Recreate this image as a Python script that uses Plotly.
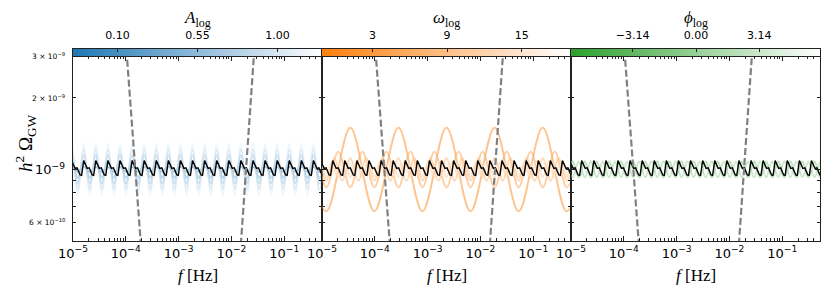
import math
import plotly.graph_objects as go

# ---------------- data ----------------
x_tick_vals = [1e-5, 1e-4, 1e-3, 1e-2, 1e-1]
x_tick_text = ["10<sup>−5</sup>", "10<sup>−4</sup>", "10<sup>−3</sup>", "10<sup>−2</sup>", "10<sup>−1</sup>"]
x_minor_vals = [m * d for d in x_tick_vals for m in range(2, 10)]
x_range_log = [-5.0, -0.284]

y_label_vals = [6e-10, 1e-9, 2e-9, 3e-9]
y_label_text = ["6 × 10<sup>−10</sup>", "10<sup>−9</sup>", "2 × 10<sup>−9</sup>", "3 × 10<sup>−9</sup>"]
y_minor_vals = [6e-10, 7e-10, 8e-10, 9e-10, 2e-9, 3e-9]
y_range = [5e-10, 3e-9]

# fiducial model (black): log10 f nodes, h^2 Omega in units of 1e-9
black_logf = [-5.026, -4.960, -4.922, -4.865, -4.837,
              -4.797, -4.731, -4.693, -4.636, -4.608,
              -4.568, -4.502, -4.464, -4.407, -4.379,
              -4.339, -4.273, -4.235, -4.178, -4.150,
              -4.110, -4.044, -4.006, -3.949, -3.921,
              -3.881, -3.815, -3.777, -3.720, -3.692,
              -3.652, -3.586, -3.548, -3.491, -3.463,
              -3.423, -3.357, -3.319, -3.262, -3.234,
              -3.194, -3.128, -3.090, -3.033, -3.005,
              -2.965, -2.899, -2.861, -2.804, -2.776,
              -2.736, -2.670, -2.632, -2.575, -2.547,
              -2.507, -2.441, -2.403, -2.346, -2.318,
              -2.278, -2.212, -2.174, -2.117, -2.089,
              -2.049, -1.983, -1.945, -1.888, -1.860,
              -1.820, -1.754, -1.716, -1.659, -1.631,
              -1.591, -1.525, -1.487, -1.430, -1.402,
              -1.362, -1.296, -1.258, -1.201, -1.173,
              -1.133, -1.067, -1.029, -0.972, -0.944,
              -0.904, -0.838, -0.800, -0.743, -0.715,
              -0.675, -0.609, -0.571, -0.514, -0.486,
              -0.446, -0.380, -0.342, -0.285, -0.257,
              -0.217]
black_period_levels = [1.090, 1.010, 1.015, 0.948, 0.944]
black_omega = black_period_levels * 21 + [1.090]

# panel 1: amplitude A_log (extrema of the wiggles)
A_values = [0.10, 0.325, 0.55, 0.775, 1.00]
A_peak = [1.026, 1.085, 1.148, 1.213, 1.285]
A_trough = [0.975, 0.921, 0.871, 0.825, 0.778]
A_extrema_logf = [-5.1405, -5.026, -4.9115, -4.797, -4.6825, -4.568, -4.4535, -4.339, -4.2245,
                  -4.110, -3.9955, -3.881, -3.7665, -3.652, -3.5375, -3.423, -3.3085,
                  -3.194, -3.0795, -2.965, -2.8505, -2.736, -2.6215, -2.507, -2.3925,
                  -2.278, -2.1635, -2.049, -1.9345, -1.820, -1.7055, -1.591, -1.4765,
                  -1.362, -1.2475, -1.133, -1.0185, -0.904, -0.7895, -0.675, -0.5605,
                  -0.446, -0.3315, -0.217]
A_first_is_peak = [False] * 5
A_cbar_range = [-0.15, 1.25]
A_cbar_ticks = [0.10, 0.55, 1.00]
A_cbar_text = ["0.10", "0.55", "1.00"]

# panel 2: frequency omega_log
omega_values = [3, 6, 9, 12, 15]
omega_peak = [1.498, 1.189, 1.117, 1.080, 1.060]
omega_trough = [0.667, 0.841, 0.895, 0.926, 0.944]
omega_first_is_peak = [True, False, True, False, True]
omega_extrema_logf = [
    [-5.375, -4.919, -4.464, -4.009, -3.553, -3.098, -2.642, -2.187, -1.731, -1.276, -0.820, -0.365, 0.091],
    [-5.375, -5.147, -4.919, -4.692, -4.464, -4.236, -4.009, -3.781, -3.553, -3.325, -3.098, -2.870,
     -2.642, -2.414, -2.187, -1.959, -1.731, -1.503, -1.276, -1.048, -0.820, -0.592, -0.365, -0.137],
    [-5.375, -5.223, -5.071, -4.920, -4.768, -4.616, -4.464, -4.312, -4.160, -4.009, -3.857, -3.705,
     -3.553, -3.401, -3.250, -3.098, -2.946, -2.794, -2.642, -2.490, -2.339, -2.187, -2.035, -1.883,
     -1.731, -1.579, -1.428, -1.276, -1.124, -0.972, -0.820, -0.668, -0.517, -0.365, -0.213],
    [-5.375, -5.261, -5.147, -5.033, -4.919, -4.805, -4.692, -4.578, -4.464, -4.350, -4.236, -4.122,
     -4.009, -3.895, -3.781, -3.667, -3.553, -3.439, -3.325, -3.211, -3.098, -2.984, -2.870, -2.756,
     -2.642, -2.528, -2.414, -2.300, -2.187, -2.073, -1.959, -1.845, -1.731, -1.617, -1.503, -1.389,
     -1.276, -1.162, -1.048, -0.934, -0.820, -0.706, -0.592, -0.478, -0.365, -0.251, -0.137],
    [-5.375, -5.284, -5.193, -5.102, -5.011, -4.920, -4.828, -4.737, -4.646, -4.555, -4.464, -4.373,
     -4.282, -4.191, -4.100, -4.009, -3.917, -3.826, -3.735, -3.644, -3.553, -3.462, -3.371, -3.280,
     -3.189, -3.098, -3.006, -2.915, -2.824, -2.733, -2.642, -2.551, -2.460, -2.369, -2.278, -2.187,
     -2.095, -2.004, -1.913, -1.822, -1.731, -1.640, -1.549, -1.458, -1.367, -1.276, -1.184, -1.093,
     -1.002, -0.911, -0.820, -0.729, -0.638, -0.547, -0.456, -0.365, -0.273, -0.182],
]
omega_cbar_range = [-1.05, 18.95]
omega_cbar_ticks = [3, 9, 15]
omega_cbar_text = ["3", "9", "15"]

# panel 3: phase phi_log
phi_values = [-3.14, 0.00, 3.14]
phi_peak = [1.080, 1.080, 1.080]
phi_trough = [0.926, 0.926, 0.926]
phi_first_is_peak = [False, True, False]
phi_extrema_logf = [-5.083, -4.9685, -4.854, -4.7395, -4.625, -4.5105, -4.396, -4.2815, -4.167, -4.0525,
                    -3.938, -3.8235, -3.709, -3.5945, -3.480, -3.3655, -3.251, -3.1365, -3.022, -2.9075,
                    -2.793, -2.6785, -2.564, -2.4495, -2.335, -2.2205, -2.106, -1.9915, -1.877, -1.7625,
                    -1.648, -1.5335, -1.419, -1.3045, -1.190, -1.0755, -0.961, -0.8465, -0.732, -0.6175,
                    -0.503, -0.3885, -0.274, -0.1595]
phi_cbar_range = [-6.2, 6.15]
phi_cbar_ticks = [-3.14, 0.0, 3.14]
phi_cbar_text = ["−3.14", "0.00", "3.14"]

# sensitivity curves (dashed grey)
sens_left_f = [7.94e-5, 2.51e-4]
sens_left_omega = [6.9e-9, 2.2e-10]
sens_right_f = [1.26e-2, 3.16e-2]
sens_right_omega = [2.7e-10, 5.2e-9]

# ---------------- styling ----------------
W, H = 830, 294
OFF = 8  # page body margin of the html page
panel_px = [(73, 322), (322, 571), (571, 820)]
main_top, main_bot = 56, 241
cbar_top = 49
base_rgb = [(31, 119, 180), (255, 127, 14), (44, 160, 44)]
FRAME = "#222222"


def px_x(v):
    return (v - OFF) / W


def px_y(v):
    return 1 - (v - OFF) / H


def shade(rgb, pos, alpha):
    pos = min(max(pos, 0.0), 1.0)
    c = [round(v + (255 - v) * pos) for v in rgb]
    return f"rgba({c[0]},{c[1]},{c[2]},{alpha})"


def wave(nodes, first_peak, hi, lo):
    lv = [(hi if ((i % 2 == 0) == first_peak) else lo) for i in range(len(nodes))]
    return [10 ** v for v in nodes], [v * 1e-9 for v in lv]


fig = go.Figure()

panels = [
    dict(vals=A_values, peak=A_peak, trough=A_trough, first=A_first_is_peak,
         nodes=[A_extrema_logf] * 5, crange=A_cbar_range, cticks=A_cbar_ticks, ctext=A_cbar_text,
         title="<i>A</i><sub>log</sub>", alpha=0.45),
    dict(vals=omega_values, peak=omega_peak, trough=omega_trough, first=omega_first_is_peak,
         nodes=omega_extrema_logf, crange=omega_cbar_range, cticks=omega_cbar_ticks, ctext=omega_cbar_text,
         title="<i>ω</i><sub>log</sub>", alpha=0.6),
    dict(vals=phi_values, peak=phi_peak, trough=phi_trough, first=phi_first_is_peak,
         nodes=[phi_extrema_logf] * 3, crange=phi_cbar_range, cticks=phi_cbar_ticks, ctext=phi_cbar_text,
         title="<i>ϕ</i><sub>log</sub>", alpha=0.5),
]

layout = dict(width=W, height=H, margin=dict(l=0, r=0, t=0, b=0, pad=0, autoexpand=False),
              paper_bgcolor="white", plot_bgcolor="white", showlegend=False)
annotations = []

for i, p in enumerate(panels):
    xa = f"x{2 * i + 1}" if i > 0 else "x"
    ya = f"y{2 * i + 1}" if i > 0 else "y"
    xc, yc = f"x{2 * i + 2}", f"y{2 * i + 2}"
    x0, x1 = panel_px[i]
    dom = [px_x(x0), px_x(x1)]
    cmin, cmax = p["crange"]

    # coloured model curves
    for v, hi, lo, fp, nodes in zip(p["vals"], p["peak"], p["trough"], p["first"], p["nodes"]):
        xs, ys = wave(nodes, fp, hi, lo)
        fig.add_trace(go.Scatter(x=xs, y=ys, mode="lines", xaxis=xa, yaxis=ya,
                                 line=dict(color=shade(base_rgb[i], (v - cmin) / (cmax - cmin), p["alpha"]),
                                           width=1.8, shape="spline", smoothing=1.0),
                                 hoverinfo="skip"))
    # fiducial
    fig.add_trace(go.Scatter(x=[10 ** v for v in black_logf], y=[v * 1e-9 for v in black_omega],
                             mode="lines", xaxis=xa, yaxis=ya, line=dict(color="black", width=1.4),
                             hoverinfo="skip"))
    # sensitivity
    for sf, so in ((sens_left_f, sens_left_omega), (sens_right_f, sens_right_omega)):
        fig.add_trace(go.Scatter(x=sf, y=so, mode="lines", xaxis=xa, yaxis=ya,
                                 line=dict(color="#808080", width=2.2, dash="7px,3px"), hoverinfo="skip"))

    # colour bar strip
    nseg = 120
    cx = [cmin + (cmax - cmin) * (k + 0.5) / nseg for k in range(nseg)]
    fig.add_trace(go.Heatmap(x=cx, y=[0.5], z=[cx], xaxis=xc, yaxis=yc, zmin=cmin, zmax=cmax,
                             colorscale=[[0, "rgb(%d,%d,%d)" % base_rgb[i]], [1, "white"]],
                             showscale=False, hoverinfo="skip"))

    axis_common = dict(showline=True, linecolor=FRAME, linewidth=1.3, showgrid=False, zeroline=False,
                       automargin=False)
    layout["xaxis" + ("" if i == 0 else str(2 * i + 1))] = dict(
        type="log", range=x_range_log, domain=dom, anchor=ya, mirror="allticks",
        ticks="inside", ticklen=5, tickwidth=1, tickcolor=FRAME,
        tickvals=x_tick_vals, ticktext=x_tick_text,
        tickfont=dict(family="DejaVu Sans", size=13, color="black"),
        minor=dict(ticks="inside", ticklen=2.5, tickwidth=0.8, tickcolor=FRAME, tickvals=x_minor_vals),
        **axis_common)
    layout["yaxis" + ("" if i == 0 else str(2 * i + 1))] = dict(
        type="log", range=[math.log10(y_range[0]), math.log10(y_range[1])],
        domain=[px_y(main_bot), px_y(main_top)], anchor=xa, mirror="allticks",
        ticks="inside", ticklen=5, tickwidth=1, tickcolor=FRAME, tickvals=[1e-9], showticklabels=False,
        minor=dict(ticks="inside", ticklen=2.5, tickwidth=0.8, tickcolor=FRAME, tickvals=y_minor_vals),
        **axis_common)
    layout[f"xaxis{2 * i + 2}"] = dict(
        range=[cmin, cmax], domain=dom, anchor=yc, side="top", mirror=True,
        ticks="inside", ticklen=3, tickwidth=1, tickcolor=FRAME,
        tickvals=p["cticks"], ticktext=p["ctext"], ticklabelstandoff=4,
        tickfont=dict(family="DejaVu Sans", size=11, color="black"), **axis_common)
    layout[f"yaxis{2 * i + 2}"] = dict(
        range=[0, 1], domain=[px_y(main_top), px_y(cbar_top)], anchor=xc, mirror=True,
        showticklabels=False, ticks="", **axis_common)

    # titles
    annotations.append(dict(text=p["title"], x=px_x((x0 + x1) / 2), y=px_y(19.5), xref="paper", yref="paper",
                            xanchor="center", yanchor="middle", showarrow=False,
                            font=dict(family="Liberation Serif", size=17, color="black")))
    annotations.append(dict(text="<i>f</i> [Hz]", x=px_x((x0 + x1) / 2), y=px_y(275), xref="paper",
                            yref="paper", xanchor="center", yanchor="middle", showarrow=False,
                            font=dict(family="Liberation Serif", size=17, color="black")))

# y tick labels (panel 1)
for v, t in zip(y_label_vals, y_label_text):
    big = abs(v - 1e-9) < 1e-15
    annotations.append(dict(text=t, x=px_x(67), y=math.log10(v), xref="paper", yref="y",
                            xanchor="right", yanchor="middle", showarrow=False,
                            font=dict(family="DejaVu Sans", size=13 if big else 7.5, color="black")))

annotations.append(dict(text="<i>h</i><sup>2</sup> Ω<sub>GW</sub>", x=px_x(25), y=px_y(143),
                        xref="paper", yref="paper", textangle=-90, xanchor="center", yanchor="middle",
                        showarrow=False, font=dict(family="Liberation Serif", size=19, color="black")))

layout["annotations"] = annotations
fig.update_layout(**layout)
fig.write_html("out.html")
